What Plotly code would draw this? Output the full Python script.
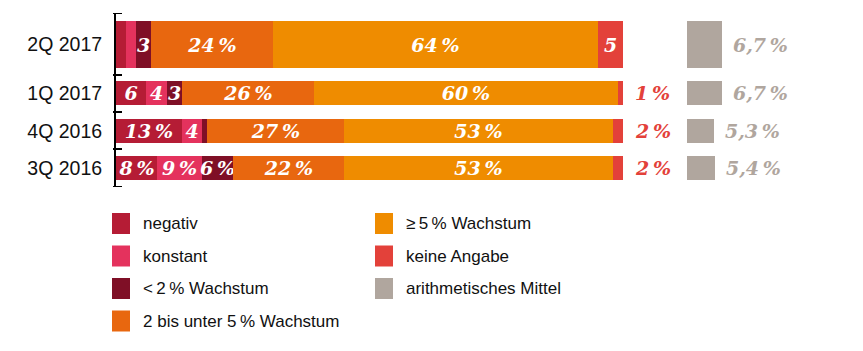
import plotly.graph_objects as go

# ---------------- data ----------------
categories = ["2Q 2017", "1Q 2017", "4Q 2016", "3Q 2016"]
negativ = [2, 6, 13, 8]
konstant = [2, 4, 4, 9]
unter2 = [3, 3, 1, 6]
bis5 = [24, 26, 27, 22]
ab5 = [64, 60, 53, 53]
keine = [5, 1, 2, 2]
mittel = [6.7, 6.7, 5.3, 5.4]

negativ_text = ["", "6", "13\u202f%", "8\u202f%"]
konstant_text = ["", "4", "4", "9\u202f%"]
unter2_text = ["3", "3", "", "6\u202f%"]
bis5_text = ["24\u202f%", "26\u202f%", "27\u202f%", "22\u202f%"]
ab5_text = ["64\u202f%", "60\u202f%", "53\u202f%", "53\u202f%"]
keine_inside = [True, False, False, False]

series_names = ["negativ", "konstant", "<\u20092\u202f% Wachstum", "2 bis unter 5\u202f% Wachstum",
                "\u2265\u20095\u202f% Wachstum", "keine Angabe", "arithmetisches Mittel"]
colors = ["#b51c35", "#e4325d", "#7f0f26", "#e8670f", "#ef8c00", "#e3413a", "#b0a69e"]

# ---------------- layout helpers (row geometry) ----------------
row_center = [31.5, 80, 118, 155]
row_width = [47, 24, 24, 24]
row_bounds = [0, 62, 99, 136, 174]

W, H = 863, 351
TOP, BOTTOM = 13, 187

serif = dict(family="DejaVu Serif", size=19, weight="bold", style="italic")

fig = go.Figure()

stack = [negativ, konstant, unter2, bis5, ab5, keine]
texts = [negativ_text, konstant_text, unter2_text, bis5_text, ab5_text,
         [f"{v}" if ins else "" for v, ins in zip(keine, keine_inside)]]
for vals, txt, col, name in zip(stack, texts, colors[:6], series_names[:6]):
    fig.add_trace(go.Bar(
        x=vals, y=row_center, width=row_width, orientation="h",
        marker=dict(color=col, line=dict(width=0)),
        text=txt, textposition="inside", insidetextanchor="middle",
        textangle=0, constraintext="none",
        insidetextfont=dict(color="white", **serif),
        name=name, showlegend=False, hoverinfo="skip",
        xaxis="x", yaxis="y",
    ))

# mean bars on second x axis
fig.add_trace(go.Bar(
    x=mittel, y=row_center, width=row_width, orientation="h",
    marker=dict(color=colors[6], line=dict(width=0)),
    name=series_names[6], showlegend=False, hoverinfo="skip",
    xaxis="x2", yaxis="y",
))

annotations = []
# outside labels for "keine Angabe"
for i in range(len(categories)):
    if not keine_inside[i]:
        total = negativ[i] + konstant[i] + unter2[i] + bis5[i] + ab5[i] + keine[i]
        annotations.append(dict(
            x=total, y=row_center[i], xref="x", yref="y",
            text=f"{keine[i]}\u202f%", showarrow=False, xanchor="left", yanchor="middle",
            xshift=10, font=dict(color=colors[5], **serif)))
# mean labels
for i in range(len(categories)):
    annotations.append(dict(
        x=mittel[i], y=row_center[i], xref="x2", yref="y",
        text=f"{mittel[i]:.1f}".replace(".", ",") + "\u202f%", showarrow=False,
        xanchor="left", yanchor="middle", xshift=9,
        font=dict(color=colors[6], **serif)))

def px_x(px):
    return px / W

def px_y(py):
    return (BOTTOM - py) / (BOTTOM - TOP)

# manual legend
shapes = []
leg_cols = [[0, 1, 2, 3], [4, 5, 6]]
col_x = [112, 375]
row_y = [223.5, 256, 288.5, 321]
for c, idxs in enumerate(leg_cols):
    for r, idx in enumerate(idxs):
        cy = row_y[r]
        shapes.append(dict(type="rect", xref="paper", yref="paper",
                           x0=px_x(col_x[c]), x1=px_x(col_x[c] + 18),
                           y0=px_y(cy + 10.5), y1=px_y(cy - 10.5),
                           fillcolor=colors[idx], line=dict(width=0)))
        annotations.append(dict(x=px_x(col_x[c] + 29), y=px_y(cy), xref="paper", yref="paper",
                                text=series_names[idx], showarrow=False,
                                xanchor="left", yanchor="middle",
                                font=dict(family="Liberation Sans", size=17, color="#111111")))

# boundary ticks on the category axis
for b in row_bounds:
    shapes.append(dict(type="line", xref="paper", yref="y",
                       x0=px_x(113), x1=px_x(122), y0=b, y1=b,
                       line=dict(color="black", width=2)))

fig.update_layout(
    width=W, height=H,
    margin=dict(l=0, r=0, t=TOP, b=H - BOTTOM, pad=0),
    paper_bgcolor="white", plot_bgcolor="white",
    barmode="stack", bargap=0,
    showlegend=False,
    xaxis=dict(domain=[116 / W, 623 / W], range=[0, 100], visible=False, fixedrange=True),
    xaxis2=dict(domain=[687 / W, 1], range=[0, 176 / 5.15], visible=False, anchor="y"),
    yaxis=dict(range=[row_bounds[-1], row_bounds[0]], tickvals=row_center, ticktext=categories,
               showline=True, linecolor="black", linewidth=2, ticks="", showgrid=False,
               zeroline=False, automargin=False, ticklabelstandoff=8,
               tickfont=dict(family="Liberation Sans", size=19.5, color="#111111")),
    annotations=annotations, shapes=shapes,
)

fig.write_html("out.html")
